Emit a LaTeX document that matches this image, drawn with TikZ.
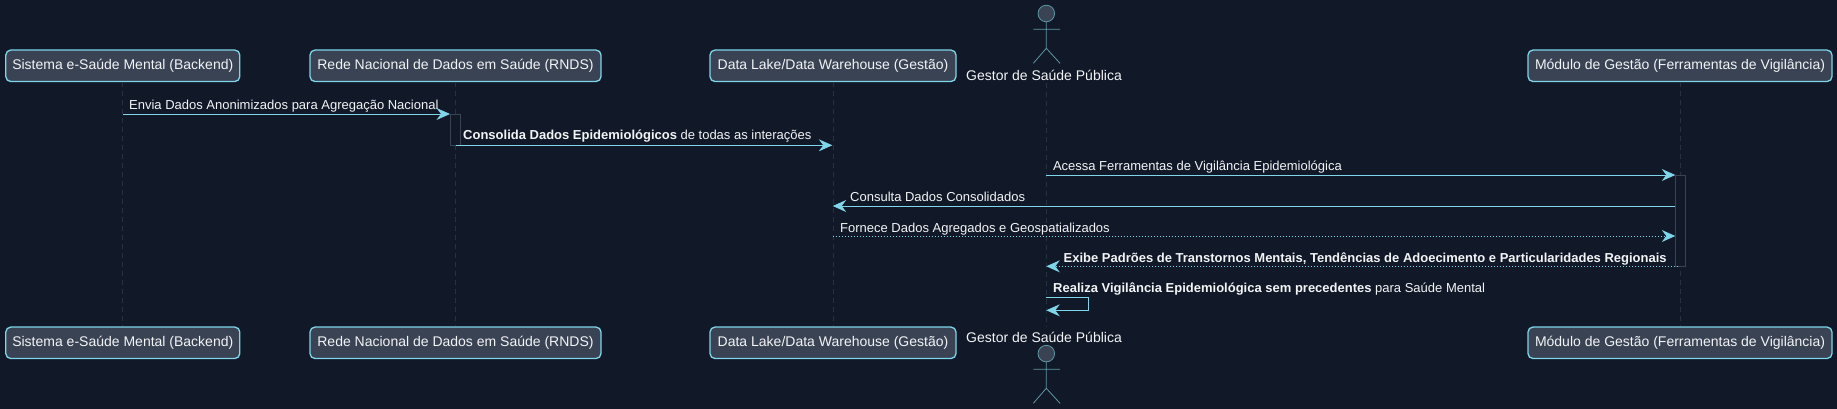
\documentclass[tikz,border=0pt]{standalone}
\usepackage{fontspec}
\setmainfont{Liberation Sans}
\usetikzlibrary{arrows.meta, positioning}
\definecolor{pagenavy}{HTML}{111827}
\definecolor{boxslate}{HTML}{394354}
\definecolor{linecyan}{HTML}{7FD6EA}
\definecolor{textwhite}{HTML}{F3F4F6}
\definecolor{lifegrey}{HTML}{273241}
\definecolor{actorteal}{HTML}{5F97A6}
\def\pagewidth{1837}
\def\pageheight{409}
\tikzset{
  participant/.style={draw=linecyan, fill=boxslate, line width=1.3pt, rounded corners=5pt, inner sep=0pt,
    minimum height=31.5pt, text=textwhite, font=\fontsize{14}{16}\selectfont},
  actorname/.style={text=textwhite, font=\fontsize{14}{16}\selectfont, inner sep=0pt},
  lifeline/.style={draw=lifegrey, line width=.8pt, dash pattern=on 5pt off 4pt},
  activation/.style={draw=boxslate, fill=pagenavy, line width=.9pt},
  message/.style={draw=linecyan, line width=.9pt, -{Stealth[length=13.5pt,width=12pt,inset=4.5pt]}},
  reply/.style={message, dash pattern=on 1.5pt off 1.5pt},
  msglabel/.style={anchor=base west, inner sep=0pt, text=textwhite, font=\fontsize{13}{15}\selectfont},
}

\begin{document}
\begin{tikzpicture}[x=1pt, y=-1pt]
    % page background fixes the proportions
    \fill[pagenavy] (0,0) rectangle (\pagewidth,\pageheight);
    \useasboundingbox (0,0) rectangle (\pagewidth,\pageheight);

    % participants top and bottom
    \foreach \nm/\cx/\bw/\txt in {back/122.8/234/{Sistema e-Saúde Mental (Backend)},
                                  rnds/455.5/291/{Rede Nacional de Dados em Saúde (RNDS)},
                                  lake/833/246/{Data Lake/Data Warehouse (Gestão)},
                                  tool/1680/304/{Módulo de Gestão (Ferramentas de Vigilância)}} {
        \node[participant, minimum width=\bw pt] (\nm top) at (\cx,65.8) {\txt};
        \node[participant, minimum width=\bw pt] (\nm bot) at (\cx,342.8) {\txt};
        \draw[lifeline] (\nm top.south) -- (\nm bot.north);
    }

    % actor top
    \draw[draw=actorteal, fill=boxslate, line width=.8pt] (1046.3,13.5) circle (8.3);
    \draw[draw=actorteal, line width=.8pt] (1046.3,21.8) -- (1046.3,48.3) (1033.3,29.3) -- (1060,29.3)
        (1033.3,63.3) -- (1046.3,48.3) -- (1060,63.3);
    \node[actorname] (chief top) at (1044,75.3) {Gestor de Saúde Pública};
    % actor bottom
    \draw[draw=actorteal, fill=boxslate, line width=.8pt] (1046.3,353.6) circle (8.3);
    \draw[draw=actorteal, line width=.8pt] (1046.3,362) -- (1046.3,388.3) (1033.3,369.3) -- (1060,369.3)
        (1033.3,403.3) -- (1046.3,388.3) -- (1060,403.3);
    \node[actorname] (chief bot) at (1044,337.3) {Gestor de Saúde Pública};
    \coordinate (chief a) at (1046.3,83);
    \coordinate (chief b) at (1046.3,327);
    \draw[lifeline] (chief a) -- (chief b);

    % activation bars
    \draw[activation] (450,114) rectangle (460.7,145.3);
    \draw[activation] (1675.3,175) rectangle (1685.3,266.3);

    % message end points
    \coordinate (m1a) at (122.5,114);     \coordinate (m1b) at (450,114);
    \coordinate (m2a) at (455.5,145.3);   \coordinate (m2b) at (832.3,145.3);
    \coordinate (m3a) at (1046.3,175);    \coordinate (m3b) at (1675.3,175);
    \coordinate (m4a) at (1675.3,206);    \coordinate (m4b) at (832.7,206);
    \coordinate (m5a) at (832.7,236);     \coordinate (m5b) at (1675.3,236);
    \coordinate (m6a) at (1678,266.3);    \coordinate (m6b) at (1046.3,266.3);
    \coordinate (m7a) at (1046.3,297.3);  \coordinate (m7b) at (1046.3,310.3);

    \draw[message] (m1a) -- (m1b);
    \draw[message] (m2a) -- (m2b);
    \draw[message] (m3a) -- (m3b);
    \draw[message] (m4a) -- (m4b);
    \draw[reply] (m5a) -- (m5b);
    \draw[reply] (m6a) -- (m6b);
    \draw[message] (m7a) -- ++(42.4,0) |- (m7b);

    % message labels
    \node[msglabel] (t1) at (129,110) {Envia Dados Anonimizados para Agregação Nacional};
    \node[msglabel] (t2) at (463,140) {\textbf{Consolida Dados Epidemiológicos} de todas as interações};
    \node[msglabel] (t3) at (1052.8,171) {Acessa Ferramentas de Vigilância Epidemiológica};
    \node[msglabel] (t4) at (850,201.5) {Consulta Dados Consolidados};
    \node[msglabel] (t5) at (840,232) {Fornece Dados Agregados e Geospatializados};
    \node[msglabel] (t6) at (1063.5,262) {\textbf{Exibe Padrões de Transtornos Mentais, Tendências de Adoecimento e Particularidades Regionais}};
    \node[msglabel] (t7) at (1053,292.5) {\textbf{Realiza Vigilância Epidemiológica sem precedentes} para Saúde Mental};
\end{tikzpicture}
\end{document}
